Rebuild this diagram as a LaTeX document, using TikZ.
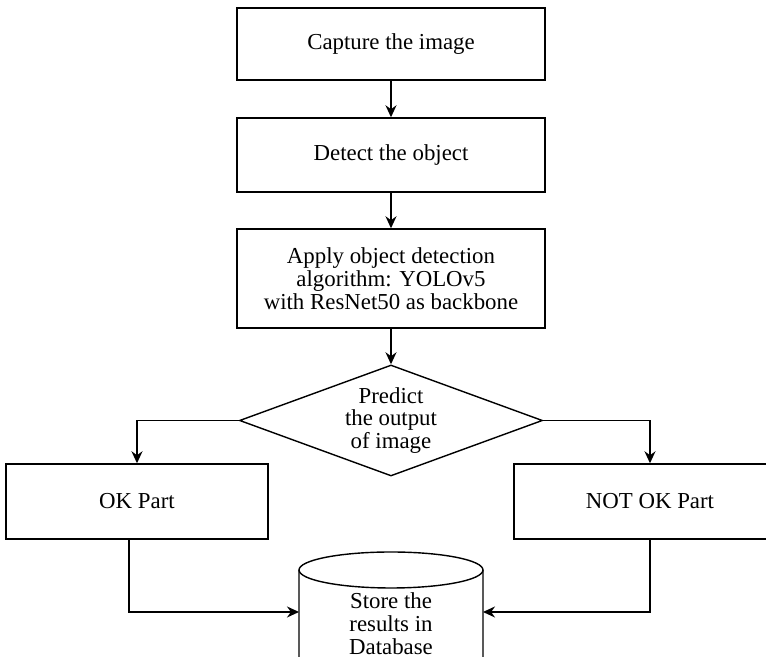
\documentclass[tikz,border=0pt]{standalone}
\usepackage{fontspec}
\setmainfont{Liberation Serif}
\usetikzlibrary{shapes.geometric,arrows.meta}

\begin{document}
\begin{tikzpicture}[font=\fontsize{13}{13}\selectfont,
		box/.style={draw, thick, align=center, inner sep=0pt},
		arr/.style={-{Stealth[length=2.4mm,width=2.2mm]}, thick}]
		\useasboundingbox (0,0) rectangle (15.32,13.14);
		
		% Steps
		\node[box, minimum width=6.16cm, minimum height=1.44cm] (capture) at (7.82,12.26) {Capture the image};
		\node[box, minimum width=6.16cm, minimum height=1.48cm] (detect) at (7.82,10.04) {Detect the object};
		\node[box, minimum width=6.16cm, minimum height=1.98cm] (yolo) at (7.82,7.57) {Apply object detection\\algorithm: YOLOv5\\with ResNet50 as backbone};
		
		% Decision
		\node[diamond, draw, thick, align=center, inner sep=0pt, aspect=2.73,
			minimum width=6.06cm, minimum height=2.22cm] (predict) at (7.82,4.73) {Predict\\the output\\of image};
		
		% Results
		\node[box, minimum width=5.24cm, minimum height=1.5cm] (ok) at (2.74,3.11) {OK Part};
		\node[box, minimum width=5.44cm, minimum height=1.5cm] (notok) at (13.0,3.11) {NOT OK Part};
		
		% Database (cylinder)
		\draw[thick] (5.98,1.74) -- (5.98,-0.66) arc (180:360:1.84 and 0.36) -- (9.66,1.74);
		\draw[thick] (7.82,1.74) ellipse (1.84 and 0.36);
		\node[align=center] (db) at (7.82,0.66) {Store the\\results in\\Database};
		\coordinate (dbleft) at (5.98,0.9);
		\coordinate (dbright) at (9.66,0.9);
		
		% Arrows
		\draw[arr] (capture) -- (detect);
		\draw[arr] (detect) -- (yolo);
		\draw[arr] (yolo) -- (predict);
		\draw[arr] (predict.west) -| (ok.north);
		\draw[arr] (predict.east) -| (notok.north);
		\draw[arr] ([xshift=-0.16cm]ok.south) |- (dbleft);
		\draw[arr] (notok.south) |- (dbright);
		
	\end{tikzpicture}
\end{document}
